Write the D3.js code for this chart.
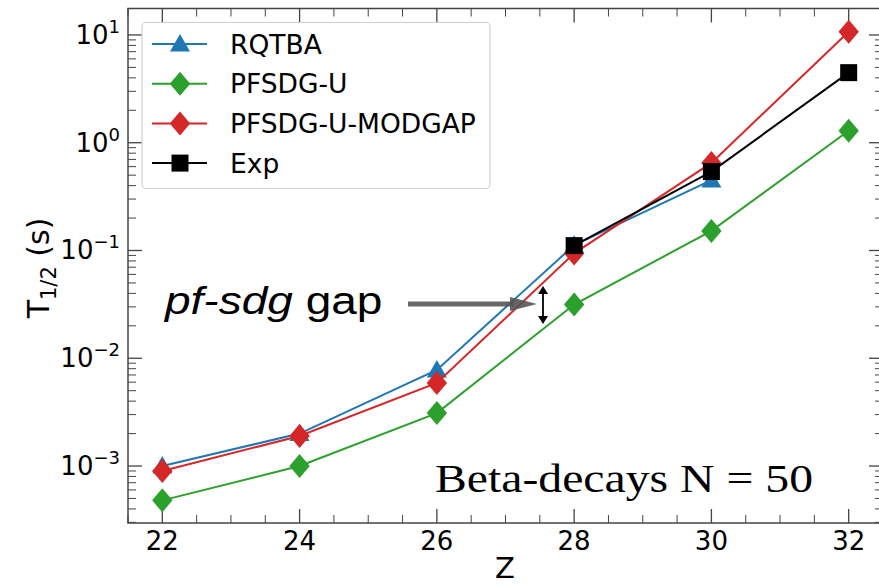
<!DOCTYPE html>
<html><head><meta charset="utf-8">
<script src="https://cdn.jsdelivr.net/npm/d3@7"></script>
<style>body{margin:0;background:#fff}svg{display:block}</style>
</head><body>
<svg id="c" width="879" height="586"></svg>
<script>
const Z = [22, 24, 26, 28, 30, 32];
const rqtba = [1.0e-3, 2.0e-3, 7.8e-3, 0.112, 0.45];          // Z 22..30
const pfsdgU = [4.8e-4, 1.0e-3, 3.1e-3, 0.0315, 0.152, 1.29];
const modgap = [9.0e-4, 1.9e-3, 5.9e-3, 0.094, 0.65, 10.7];
const expZ = [28, 30, 32];
const expV = [0.111, 0.54, 4.47];
const xTicks = [22, 24, 26, 28, 30, 32];
const yTickExp = [-3, -2, -1, 0, 1];
const legendLabels = ["RQTBA", "PFSDG-U", "PFSDG-U-MODGAP", "Exp"];

const svg = d3.select("#c");
const L = 128, R = 883, T = 8.5, B = 523;
const x = d3.scaleLinear().domain([21.5, 32.5]).range([L, R]);
const y = d3.scaleLog().domain([2.96e-4, 17.6]).range([B, T]);

const axisCol = "#444";
svg.append("rect").attr("x", L).attr("y", T).attr("width", R - L).attr("height", B - T)
  .attr("fill", "none").attr("stroke", axisCol).attr("stroke-width", 1.5);

const xMinor = d3.range(21.5, 32.51, 0.5).filter(v => !xTicks.includes(v));
const gx = svg.append("g").attr("stroke", axisCol);
xTicks.forEach(v => {
  gx.append("line").attr("x1", x(v)).attr("x2", x(v)).attr("y1", B).attr("y2", B - 14).attr("stroke-width", 1.3);
  gx.append("line").attr("x1", x(v)).attr("x2", x(v)).attr("y1", T).attr("y2", T + 14).attr("stroke-width", 1.3);
});
xMinor.forEach(v => {
  gx.append("line").attr("x1", x(v)).attr("x2", x(v)).attr("y1", B).attr("y2", B - 8).attr("stroke-width", 1);
  gx.append("line").attr("x1", x(v)).attr("x2", x(v)).attr("y1", T).attr("y2", T + 8).attr("stroke-width", 1);
});
svg.append("g").selectAll("text").data(xTicks).join("text")
  .attr("x", d => x(d)).attr("y", 550).attr("text-anchor", "middle")
  .attr("font-family", "DejaVu Sans").attr("font-size", 26).attr("fill", "#000").text(d => d);

const gy = svg.append("g").attr("stroke", axisCol);
for (let e = -4; e <= 1; e++) {
  for (let m = 1; m <= 9; m++) {
    const v = m * Math.pow(10, e);
    if (v < y.domain()[0] || v > y.domain()[1]) continue;
    const len = m === 1 ? 14 : 8;
    const w = m === 1 ? 1.3 : 1;
    gy.append("line").attr("x1", L).attr("x2", L + len).attr("y1", y(v)).attr("y2", y(v)).attr("stroke-width", w);
    gy.append("line").attr("x1", R).attr("x2", R - len).attr("y1", y(v)).attr("y2", y(v)).attr("stroke-width", w);
  }
}
yTickExp.forEach(e => {
  const t = svg.append("text").attr("x", 120).attr("y", y(Math.pow(10, e)) + 9)
    .attr("text-anchor", "end").attr("font-family", "DejaVu Sans").attr("font-size", 26).attr("fill", "#000");
  t.append("tspan").text("10");
  t.append("tspan").attr("font-size", 18).attr("dy", -11).text(e < 0 ? "\u2212" + (-e) : String(e));
});

svg.append("text").attr("x", 505).attr("y", 578).attr("text-anchor", "middle")
  .attr("font-family", "DejaVu Sans").attr("font-size", 29).text("Z");
const yl = svg.append("text").attr("transform", "translate(49,268) rotate(-90)").attr("text-anchor", "middle")
  .attr("font-family", "DejaVu Sans").attr("font-size", 30);
yl.append("tspan").text("T");
yl.append("tspan").attr("font-size", 21).attr("dy", 7).text("1/2");
yl.append("tspan").attr("dy", -7).text(" (s)");

const series = [
  {name: legendLabels[0], xs: Z.slice(0, rqtba.length), ys: rqtba, color: "#1f77b4", marker: "triangle", size: 20},
  {name: legendLabels[1], xs: Z, ys: pfsdgU, color: "#2ca02c", marker: "diamond", size: 24},
  {name: legendLabels[2], xs: Z, ys: modgap, color: "#d62728", marker: "diamond", size: 24},
  {name: legendLabels[3], xs: expZ, ys: expV, color: "#000", marker: "square", size: 17},
];
function markerPath(type, s) {
  const h = s / 2;
  if (type === "diamond") return `M0,${-h}L${h * 0.85},0L0,${h}L${-h * 0.85},0Z`;
  if (type === "square") return `M${-h},${-h}H${h}V${h}H${-h}Z`;
  return `M0,${-h}L${h},${h * 0.75}L${-h},${h * 0.75}Z`;
}
const line = d3.line().x(d => x(d[0])).y(d => y(d[1]));
series.forEach(s => {
  const pts = s.xs.map((v, i) => [v, s.ys[i]]);
  svg.append("path").attr("d", line(pts)).attr("fill", "none").attr("stroke", s.color).attr("stroke-width", 2);
  svg.append("g").selectAll("path").data(pts).join("path")
    .attr("transform", d => `translate(${x(d[0])},${y(d[1])})`)
    .attr("d", markerPath(s.marker, s.size)).attr("fill", s.color);
});

svg.append("rect").attr("x", 142).attr("y", 22.5).attr("width", 348).attr("height", 166).attr("rx", 4)
  .attr("fill", "#fff").attr("fill-opacity", 0.8).attr("stroke", "#d0d0d0").attr("stroke-width", 1.2);
series.forEach((s, i) => {
  const yy = 44 + i * 39.7;
  svg.append("line").attr("x1", 152).attr("x2", 207).attr("y1", yy).attr("y2", yy).attr("stroke", s.color).attr("stroke-width", 2);
  svg.append("path").attr("transform", `translate(180,${yy})`).attr("d", markerPath(s.marker, s.size)).attr("fill", s.color);
  svg.append("text").attr("x", 230).attr("y", yy + 9.5).attr("font-family", "DejaVu Sans").attr("font-size", 26.5).text(s.name);
});

const ann = svg.append("text").attr("transform", "translate(165,314) scale(1.18,1)")
  .attr("font-family", "Liberation Sans").attr("font-size", 39);
ann.append("tspan").attr("font-style", "italic").text("pf-sdg");
ann.append("tspan").text(" gap");
svg.append("line").attr("x1", 408).attr("x2", 514).attr("y1", 304).attr("y2", 304)
  .attr("stroke", "#555").attr("stroke-opacity", 0.9).attr("stroke-width", 5);
svg.append("path").attr("d", "M510,297L537,304L510,311Z").attr("fill", "#555").attr("fill-opacity", 0.9);
svg.append("line").attr("x1", 543).attr("x2", 543).attr("y1", 292).attr("y2", 318).attr("stroke", "#000").attr("stroke-width", 1.8);
svg.append("path").attr("d", "M538,294L543,286L548,294Z").attr("fill", "#000");
svg.append("path").attr("d", "M538,316L543,324L548,316Z").attr("fill", "#000");

svg.append("text").attr("x", 435).attr("y", 492).attr("font-family", "Liberation Serif").attr("font-size", 41)
  .attr("textLength", 378).attr("lengthAdjust", "spacingAndGlyphs")
  .text("Beta-decays N = 50");
</script>
</body></html>
